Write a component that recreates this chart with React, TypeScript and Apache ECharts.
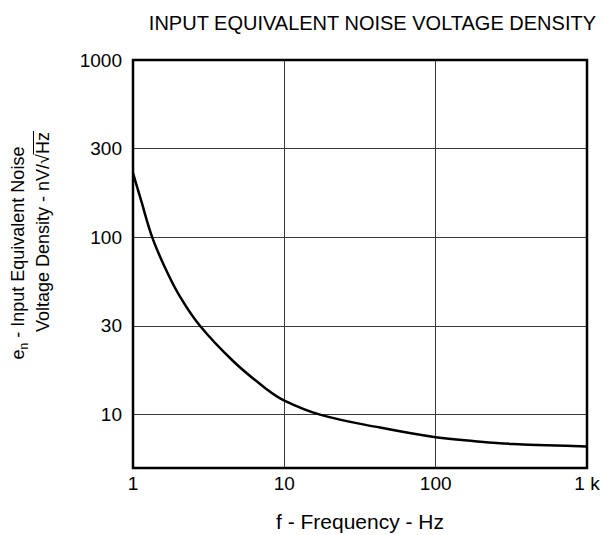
import React, { useEffect, useRef } from "react";
import * as echarts from "echarts";

// Data (frequency in Hz, noise density in nV/√Hz)
const freqHz = [1, 1.13, 1.34, 1.63, 2.04, 2.76, 4.6, 7.65, 10, 17.2, 42.9, 100, 182, 324, 1000];
const enNv = [230, 162, 100, 67.3, 46.4, 31.8, 20.0, 13.9, 12.0, 10.0, 8.45, 7.45, 7.08, 6.83, 6.62];

const xTickValues = [1, 10, 100, 1000];
const xTickLabels = ["1", "10", "100", "1 k"];
const yTickExps = [1, 1.5, 2, 2.5, 3];
const yTickLabels = ["10", "30", "100", "300", "1000"];
const yMinValue = 5;
const yMaxValue = 1000;

const titleText = "INPUT EQUIVALENT NOISE VOLTAGE DENSITY";
const xName = "f - Frequency - Hz";
const yName1 = " - Input Equivalent Noise";
const yName2 = "Voltage Density - nV/√Hz";

const FONT = '"Liberation Sans", Arial, sans-serif';
const GRID = { left: 133, top: 60, width: 454, height: 408 };

function measure(text: string, size: number): number {
  const c = document.createElement("canvas").getContext("2d");
  if (!c) return text.length * size * 0.5;
  c.font = `${size}px ${FONT}`;
  return c.measureText(text).width;
}

export default function App() {
  const ref = useRef<HTMLDivElement>(null);
  useEffect(() => {
    if (!ref.current) return;
    const chart = echarts.init(ref.current, null, { renderer: "svg" });
    const data = freqHz.map((f, i) => [f, Math.log10(enNv[i])]);
    const ySize = 18;
    const w2 = measure(yName2, ySize);
    const hzW = measure("Hz", ySize);

    chart.setOption({
      animation: false,
      backgroundColor: "#fff",
      textStyle: { fontFamily: FONT },
      grid: {
        left: GRID.left,
        top: GRID.top,
        width: GRID.width,
        height: GRID.height,
        containLabel: false,
        outerBoundsMode: "none",
        show: false,
      },
      xAxis: {
        type: "log",
        logBase: 10,
        min: 1,
        max: 1000,
        axisLine: { show: false },
        axisTick: { show: false },
        minorTick: { show: false },
        splitLine: { show: true, lineStyle: { color: "#3a3a3a", width: 1 } },
        axisLabel: {
          color: "#000",
          fontSize: 19,
          fontFamily: FONT,
          margin: 6,
          formatter: (v: number) => {
            const i = xTickValues.findIndex((t) => Math.abs(t - v) < 1e-6 * t);
            return i >= 0 ? xTickLabels[i] : "";
          },
        },
      },
      yAxis: {
        type: "value",
        min: Math.log10(yMinValue),
        max: Math.log10(yMaxValue),
        axisLine: { show: false },
        axisTick: { show: false, customValues: yTickExps },
        splitLine: { show: true, lineStyle: { color: "#3a3a3a", width: 1 } },
        axisLabel: {
          customValues: yTickExps,
          color: "#000",
          fontSize: 19,
          fontFamily: FONT,
          margin: 11,
          formatter: (v: number) => {
            const i = yTickExps.findIndex((t) => Math.abs(t - v) < 1e-6);
            return i >= 0 ? yTickLabels[i] : "";
          },
        },
      },
      series: [
        {
          type: "line",
          data,
          showSymbol: false,
          smooth: 0.4,
          lineStyle: { color: "#000", width: 2.5 },
          z: 5,
        },
      ],
      graphic: [
        {
          type: "rect",
          shape: { x: GRID.left, y: GRID.top, width: GRID.width, height: GRID.height },
          style: { fill: "none", stroke: "#000", lineWidth: 2.5 },
          z: 100,
          silent: true,
        },
        {
          type: "text",
          x: 596,
          y: 23,
          style: {
            text: titleText,
            fill: "#000",
            font: `20px ${FONT}`,
            textAlign: "right",
            textVerticalAlign: "middle",
          },
        },
        {
          type: "text",
          x: GRID.left + GRID.width / 2,
          y: 521,
          style: {
            text: xName,
            fill: "#000",
            font: `21px ${FONT}`,
            textAlign: "center",
            textVerticalAlign: "middle",
          },
        },
        {
          type: "text",
          x: 17,
          y: 253,
          rotation: Math.PI / 2,
          style: {
            text: "{e|e}{s|n}{t|" + yName1 + "}",
            fill: "#000",
            font: `${ySize}px ${FONT}`,
            textAlign: "center",
            textVerticalAlign: "middle",
            rich: {
              e: { fontSize: ySize, fontFamily: FONT, fill: "#000", verticalAlign: "bottom", lineHeight: 20 },
              s: { fontSize: 12, fontFamily: FONT, fill: "#000", verticalAlign: "bottom", lineHeight: 20, padding: [0, 0, -3, 0] },
              t: { fontSize: ySize, fontFamily: FONT, fill: "#000", verticalAlign: "bottom", lineHeight: 20 },
            },
          },
        },
        {
          type: "group",
          x: 43,
          y: 232,
          rotation: Math.PI / 2,
          children: [
            {
              type: "text",
              x: 0,
              y: 0,
              style: {
                text: yName2,
                fill: "#000",
                font: `${ySize}px ${FONT}`,
                textAlign: "center",
                textVerticalAlign: "middle",
              },
            },
            {
              type: "line",
              shape: { x1: w2 / 2 - hzW - 0.5, y1: -9.5, x2: w2 / 2 + 1, y2: -9.5 },
              style: { stroke: "#000", lineWidth: 1 },
            },
          ],
        },
      ],
    });
    return () => chart.dispose();
  }, []);
  return (
    <div
      ref={ref}
      style={{ position: "absolute", left: 0, top: 0, width: 605, height: 535 }}
    />
  );
}
